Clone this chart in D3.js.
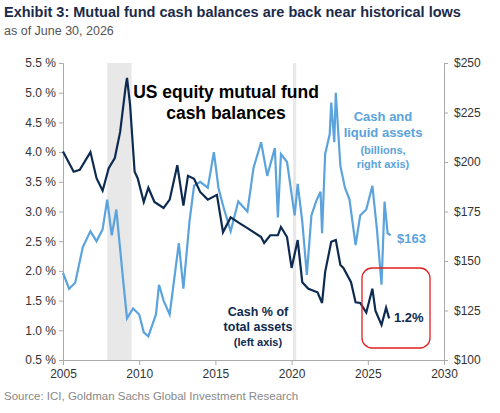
<!DOCTYPE html>
<html><head><meta charset="utf-8">
<script src="https://cdn.jsdelivr.net/npm/d3@7"></script>
<style>
body{margin:0;background:#fff;font-family:Arial,"Liberation Sans",sans-serif;}
.axis text{font-size:12px;fill:#333;font-family:Arial,"Liberation Sans",sans-serif;}
.axis path,.axis line{stroke:#aaa;}
</style></head><body>
<script>
// cash as % of total assets (left axis)
var cashPctYears = [2005.0,2005.7,2006.1,2006.8,2007.2,2007.6,2008.0,2008.4,2008.75,2009.1,2009.2,2009.4,2009.7,2009.9,2010.3,2010.6,2011.0,2011.6,2012.0,2012.5,2012.9,2013.2,2013.6,2014.0,2014.5,2015.1,2015.5,2016.0,2016.6,2017.1,2018.0,2018.2,2018.6,2019.1,2019.3,2019.7,2020.0,2020.4,2020.7,2021.1,2021.7,2022.0,2022.2,2022.6,2022.9,2023.2,2023.4,2023.9,2024.2,2024.5,2024.9,2025.3,2025.5,2025.9,2026.2,2026.4];
var cashPct = [4.01,3.67,3.7,4.0,3.56,3.35,3.73,3.9,4.34,5.08,5.25,4.8,3.67,3.56,3.16,3.4,3.16,3.06,3.2,3.78,3.1,3.6,3.55,3.33,3.2,3.28,2.65,2.9,2.8,2.72,2.57,2.47,2.6,2.6,2.74,2.57,2.05,2.52,1.81,1.7,1.64,1.46,1.98,2.49,2.52,2.1,2.05,1.81,1.47,1.46,1.3,1.7,1.33,1.09,1.38,1.2];
// cash and liquid assets, $bn (right axis)
var cashBnYears = [2005.0,2005.4,2005.8,2006.3,2006.8,2007.2,2007.6,2007.9,2008.2,2008.5,2009.0,2009.2,2009.6,2010.0,2010.3,2010.6,2011.1,2011.3,2011.6,2012.0,2012.6,2012.9,2013.3,2013.6,2014.0,2014.5,2014.9,2015.2,2015.5,2016.0,2016.5,2017.1,2017.5,2018.0,2018.4,2018.9,2019.1,2019.3,2019.7,2020.2,2020.4,2020.7,2021.0,2021.3,2021.6,2021.9,2022.0,2022.2,2022.5,2022.6,2022.8,2022.9,2023.2,2023.5,2023.8,2024.2,2024.5,2024.9,2025.3,2025.6,2025.9,2026.1,2026.3,2026.5];
var cashBn = [144,136,139,157,165,160,166,181,163,176,136,121,126,123,114,112,123,138,130,123,159,136,170,188,190,187,205,187,178,165,180,175,197,210,193,207,172,204,200,173,189,170,143,173,180,185,164,204,214,230,210,235,198,187,181,158,173,176,188,166,138,180,164,163];
var leftTicks = [0.5,1.0,1.5,2.0,2.5,3.0,3.5,4.0,4.5,5.0,5.5];
var rightTicks = [100,125,150,175,200,225,250];
var xTicks = [2005,2010,2015,2020,2025,2030];
var recessions = [[2007.9,2009.5],[2020.1,2020.3]];

var W = 500, H = 413;
var m = {left:63, right:56, top:63, bottom:53};
var svg = d3.select("body").append("svg").attr("width",W).attr("height",H);

var x = d3.scaleLinear().domain([2005,2030]).range([m.left, W-m.right]);
var yL = d3.scaleLinear().domain([0.5,5.5]).range([H-m.bottom, m.top]);
var yR = d3.scaleLinear().domain([100,250]).range([H-m.bottom, m.top]);

svg.append("text").attr("x",4).attr("y",17).style("font-size","14.5px").style("font-weight","bold").attr("fill","#1b2a4a")
  .text("Exhibit 3: Mutual fund cash balances are back near historical lows");
svg.append("text").attr("x",4).attr("y",35).style("font-size","12.5px").attr("fill","#555").text("as of June 30, 2026");

svg.selectAll("rect.rec").data(recessions).enter().append("rect")
  .attr("x",function(d){return x(d[0]);}).attr("width",function(d){return x(d[1])-x(d[0]);})
  .attr("y",m.top).attr("height",H-m.bottom-m.top).attr("fill","#e8e8e8");

svg.append("g").attr("class","axis").attr("transform","translate(0,"+(H-m.bottom)+")")
  .call(d3.axisBottom(x).tickValues(xTicks).tickFormat(d3.format("d")).tickSize(5).tickPadding(4));
svg.append("g").attr("class","axis").attr("transform","translate("+m.left+",0)")
  .call(d3.axisLeft(yL).tickValues(leftTicks).tickFormat(function(d){return d.toFixed(1)+" %";}).tickSize(4));
svg.append("g").attr("class","axis").attr("transform","translate("+(W-m.right)+",0)")
  .call(d3.axisRight(yR).tickValues(rightTicks).tickFormat(function(d){return "$"+d;}).tickSize(4).tickPadding(6));
svg.selectAll(".axis .domain").attr("stroke","#aaa");

var lineBn = d3.line().x(function(d,i){return x(cashBnYears[i]);}).y(function(d){return yR(d);});
var linePct = d3.line().x(function(d,i){return x(cashPctYears[i]);}).y(function(d){return yL(d);});
svg.append("path").datum(cashBn).attr("d",lineBn).attr("fill","none").attr("stroke","#5ba3dc").attr("stroke-width",2.2);
svg.append("path").datum(cashPct).attr("d",linePct).attr("fill","none").attr("stroke","#0d2a50").attr("stroke-width",2.2);

svg.append("rect").attr("x",362).attr("y",268).attr("width",68).attr("height",80).attr("rx",10)
  .attr("fill","none").attr("stroke","#e02020").attr("stroke-width",1.3);

function label(lines, cx, y0, dy, size, color, weight){
  var t = svg.append("text").attr("text-anchor","middle").attr("fill",color).style("font-size",size).style("font-weight",weight);
  lines.forEach(function(s,i){ t.append("tspan").attr("x",cx).attr("y",y0+i*dy).text(s); });
}
label(["US equity mutual fund","cash balances"],226,98,21,"17.5px","#000","bold");
label(["Cash and","liquid assets"],383,121,16,"13px","#5ba3dc","bold");
label(["(billions,","right axis)"],383,154,14,"11px","#5ba3dc","bold");
label(["Cash % of","total assets"],258,316,15,"12.5px","#0d2a50","bold");
label(["(left axis)"],258,346,0,"11px","#0d2a50","bold");
svg.append("text").attr("x",397).attr("y",243).attr("fill","#5ba3dc").style("font-size","13px").style("font-weight","bold").text("$163");
svg.append("text").attr("x",394).attr("y",322).attr("fill","#0d2a50").style("font-size","13px").style("font-weight","bold").text("1.2%");

svg.append("text").attr("x",4).attr("y",400).attr("fill","#888").style("font-size","11.5px")
  .text("Source: ICI, Goldman Sachs Global Investment Research");
</script>
</body></html>
